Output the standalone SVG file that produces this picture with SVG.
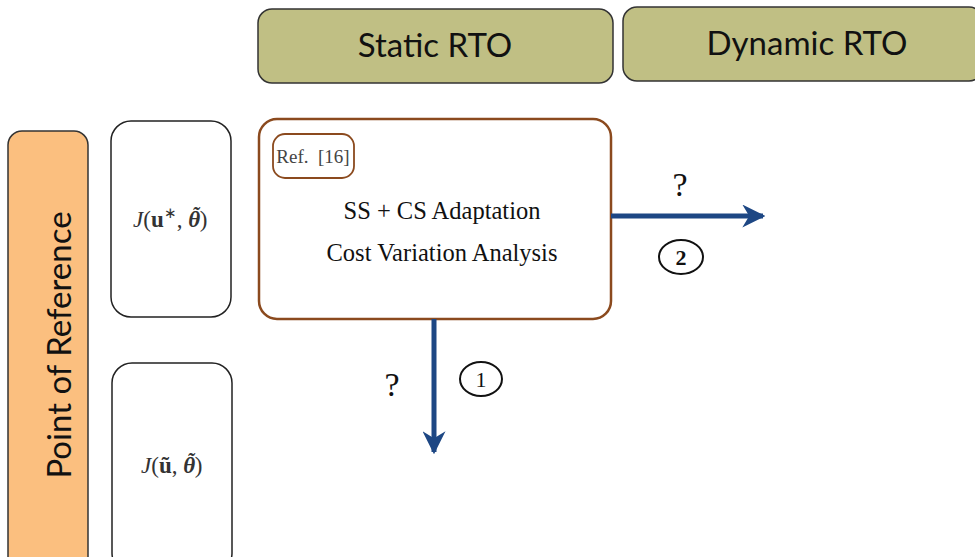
<svg xmlns="http://www.w3.org/2000/svg" width="975" height="557" viewBox="0 0 975 557">
<style>
.hdr{fill:#c0bf84;stroke:#333;stroke-width:1.5}
.hdrt{font-family:Lato,"Open Sans",sans-serif;font-size:33px;fill:#111;text-anchor:middle}
.jbox{fill:#fff;stroke:#222;stroke-width:1.5}
.math{font-family:"Liberation Serif",serif;font-size:23px;fill:#333}
.th{font-weight:bold;font-style:italic}
.serif{font-family:"Liberation Serif",serif;fill:#111;text-anchor:middle}
.conn{stroke:#1d4784;stroke-width:5;fill:none}
</style>
<defs>
<marker id="ah" viewBox="0 0 10 10" refX="9" refY="5" markerWidth="4.6" markerHeight="4.6" orient="auto" markerUnits="strokeWidth">
<path d="M0,0 L10,5 L0,10 L3,5 Z" fill="#1d4784"/>
</marker>
</defs>
<rect width="975" height="557" fill="#fff"/>
<g id="static-rto">
<rect class="hdr" x="258" y="9" width="355" height="74" rx="14"/>
<text class="hdrt" x="435" y="57">Static RTO</text>
</g>
<g id="dynamic-rto">
<rect class="hdr" x="623" y="7" width="360" height="74" rx="14"/>
<text class="hdrt" x="807" y="55">Dynamic RTO</text>
</g>
<g id="point-of-reference">
<rect x="8" y="131" width="80" height="440" rx="14" fill="#fbbf7f" stroke="#333" stroke-width="1.5"/>
<text transform="translate(71,345) rotate(-90)" font-family="Lato,'Open Sans',sans-serif" font-size="33" fill="#111" text-anchor="middle">Point of Reference</text>
</g>
<g id="j-ustar">
<rect class="jbox" x="111" y="121" width="120" height="196" rx="20"/>
<text class="math" x="133" y="227"><tspan font-style="italic">J</tspan>(<tspan font-weight="bold">u</tspan><tspan font-size="15" dy="-9">∗</tspan><tspan dy="9">, </tspan><tspan class="th">θ</tspan><tspan dx="-8" dy="-6" font-size="20" class="th">˜</tspan><tspan dx="1" dy="6">)</tspan></text>
</g>
<g id="j-utilde">
<rect class="jbox" x="112" y="363" width="120" height="210" rx="20"/>
<text class="math" x="141" y="473"><tspan font-style="italic">J</tspan>(<tspan font-weight="bold">ũ</tspan>, <tspan class="th">θ</tspan><tspan dx="-8" dy="-6" font-size="20" class="th">˜</tspan><tspan dx="1" dy="6">)</tspan></text>
</g>
<g id="main-box">
<rect x="259" y="119" width="352" height="200" rx="18" fill="#fff" stroke="#8b4a1e" stroke-width="2.5"/>
<rect x="273" y="134" width="81" height="44" rx="12" fill="#fff" stroke="#8b4a1e" stroke-width="1.8"/>
<text class="serif" x="313" y="163" font-size="19" style="fill:#444" xml:space="preserve">Ref.  [16]</text>
<text class="serif" x="442" y="219" font-size="24.5">SS + CS Adaptation</text>
<text class="serif" x="442" y="261" font-size="24.5">Cost Variation Analysis</text>
</g>
<g id="connectors">
<line class="conn" x1="611" y1="216" x2="763" y2="216" marker-end="url(#ah)"/>
<line class="conn" x1="434" y1="319" x2="434" y2="452" marker-end="url(#ah)"/>
</g>
<g id="labels">
<text class="serif" x="680" y="196" font-size="34">?</text>
<ellipse cx="681" cy="257" rx="22" ry="17" fill="none" stroke="#111" stroke-width="2"/>
<text class="serif" x="681" y="265" font-size="22" font-weight="bold">2</text>
<text class="serif" x="392" y="396" font-size="34">?</text>
<ellipse cx="481" cy="379" rx="21" ry="17" fill="none" stroke="#111" stroke-width="2"/>
<text class="serif" x="481" y="387" font-size="22">1</text>
</g>
</svg>
